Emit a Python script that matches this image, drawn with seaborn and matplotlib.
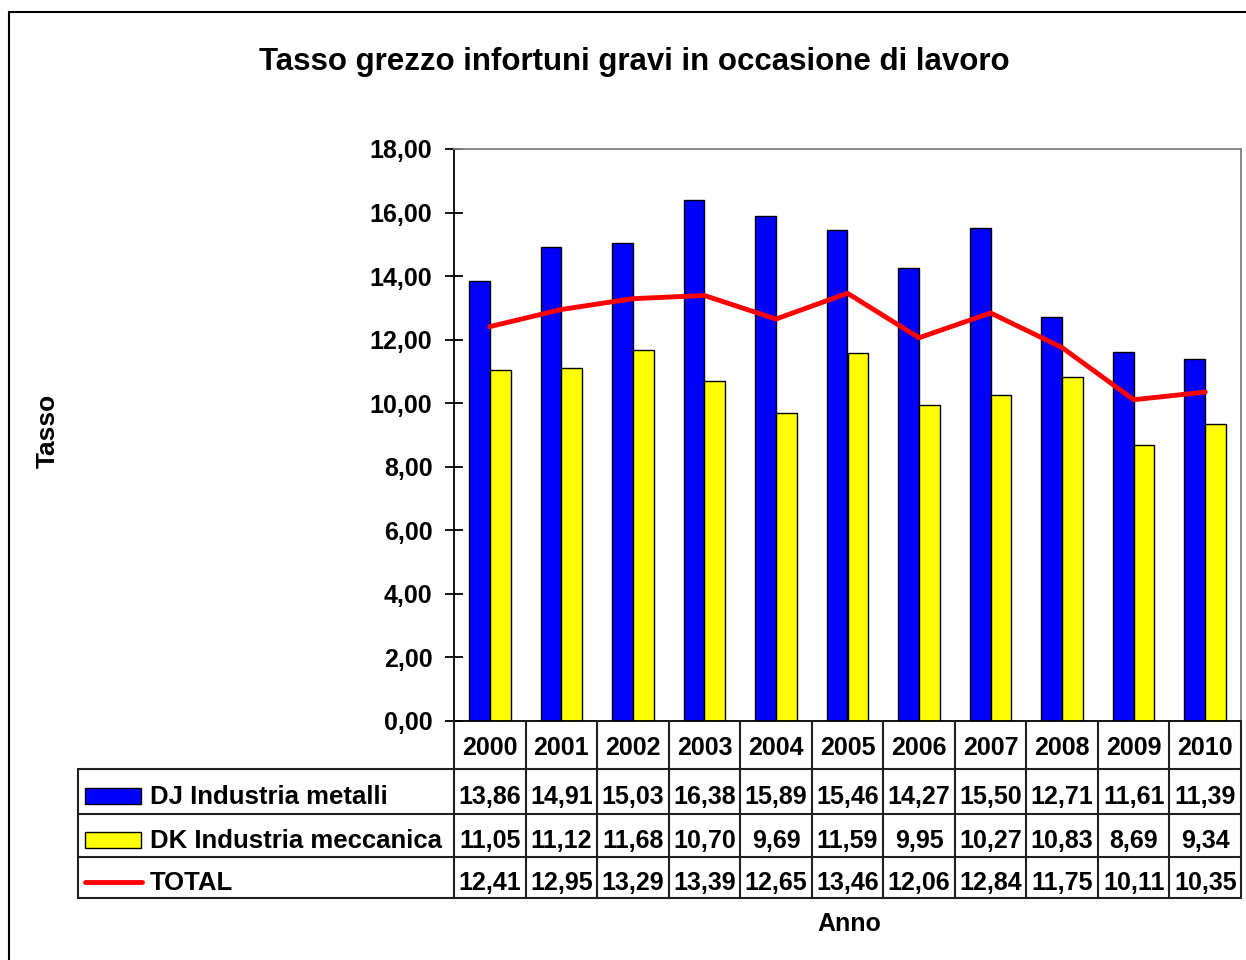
import numpy as np
import pandas as pd
import matplotlib
matplotlib.use('Agg')
import matplotlib.pyplot as plt
import seaborn as sns
from matplotlib.patches import Rectangle
from matplotlib.lines import Line2D

# dati
anni = ['2000', '2001', '2002', '2003', '2004', '2005', '2006', '2007', '2008', '2009', '2010']
metalli = [13.86, 14.91, 15.03, 16.38, 15.89, 15.46, 14.27, 15.50, 12.71, 11.61, 11.39]
meccanica = [11.05, 11.12, 11.68, 10.70, 9.69, 11.59, 9.95, 10.27, 10.83, 8.69, 9.34]
totale = [12.41, 12.95, 13.29, 13.39, 12.65, 13.46, 12.06, 12.84, 11.75, 10.11, 10.35]
serie = ['DJ Industria metalli', 'DK Industria meccanica', 'TOTAL']
colori = ['#0000FF', '#FFFF00', '#FF0000']
yticks = [0, 2, 4, 6, 8, 10, 12, 14, 16, 18]

sns.set_style('white')
plt.rcParams['font.family'] = ['Liberation Sans', 'DejaVu Sans']
plt.rcParams['font.weight'] = 'bold'
plt.rcParams['text.color'] = 'black'
plt.rcParams['ytick.color'] = 'black'
plt.rcParams['ytick.labelcolor'] = 'black'


def virgola(v):
    return f'{v:.2f}'.replace('.', ',')


W, H = 1246, 960
fig = plt.figure(figsize=(W / 100, H / 100), dpi=100)
ax = fig.add_axes([454 / W, 1 - 721 / H, (1241 - 454) / W, (721 - 149) / H])

df = pd.DataFrame({
    'anno': anni * 2,
    'valore': metalli + meccanica,
    'serie': [serie[0]] * len(anni) + [serie[1]] * len(anni),
})
sns.barplot(data=df, x='anno', y='valore', hue='serie', order=anni,
            palette=colori[:2], saturation=1, edgecolor='black', linewidth=1.0,
            width=0.58, gap=0, errorbar=None, legend=False, ax=ax)
sns.lineplot(x=np.arange(len(anni)), y=totale, color=colori[2],
             linewidth=3.5, ax=ax)

ax.set_xlim(-0.5, len(anni) - 0.5)
ax.set_ylim(0, 18)
ax.set_yticks(yticks)
ax.set_yticklabels([virgola(v) for v in yticks])
ax.set_xticks([])
ax.set_xlabel('')
ax.set_ylabel('')
ax.tick_params(axis='y', direction='inout', length=13, width=1.3,
               labelsize=18, pad=9, left=True, colors='black')
for s in ['top', 'right']:
    ax.spines[s].set_color('#808080')
    ax.spines[s].set_linewidth(1.3)
for s in ['left', 'bottom']:
    ax.spines[s].set_color('black')
    ax.spines[s].set_linewidth(1.3)

# titolo ed etichette
fig.text(634 / W, 1 - 62 / H, 'Tasso grezzo infortuni gravi in occasione di lavoro',
         ha='center', va='center', fontsize=22.5, weight='bold')
fig.text(48 / W, 1 - 431 / H, 'Tasso', rotation=90, ha='center', va='center',
         fontsize=19, weight='bold')
fig.text(849 / W, 1 - 924 / H, 'Anno', ha='center', va='center',
         fontsize=18, weight='bold')

# tabella dati sotto il grafico
inv = fig.transFigure.inverted()


def fx(xd):
    return inv.transform(ax.transData.transform((xd, 0)))[0]


def fy(py):
    return 1 - py / H


righe = [721, 769, 814, 857, 898]
x_lab = 78 / W
bordi = [fx(k - 0.5) for k in range(len(anni) + 1)]
lc = '#202020'
lw = 1.5

for b in bordi:
    fig.add_artist(Line2D([b, b], [fy(righe[0]), fy(righe[-1])], color=lc, lw=lw))
fig.add_artist(Line2D([x_lab, x_lab], [fy(righe[1]), fy(righe[-1])], color=lc, lw=lw))
for r in righe[1:]:
    fig.add_artist(Line2D([x_lab, bordi[-1]], [fy(r), fy(r)], color=lc, lw=lw))

yc_head = (righe[0] + righe[1]) / 2 + 3
for i, a in enumerate(anni):
    fig.text(fx(i), fy(yc_head), a, ha='center', va='center', fontsize=18, weight='bold')

valori = [metalli, meccanica, totale]
for j, vals in enumerate(valori):
    yc = (righe[j + 1] + righe[j + 2]) / 2 + 6
    for i, v in enumerate(vals):
        fig.text(fx(i), fy(yc), virgola(v), ha='center', va='center',
                 fontsize=18, weight='bold')
    fig.text(150 / W, fy(yc), serie[j], ha='left', va='center',
             fontsize=18.5, weight='bold')
    if j < 2:
        fig.add_artist(Rectangle((85 / W, fy(yc + 6)), 56 / W, 16 / H,
                                 facecolor=colori[j], edgecolor='black', lw=1.0,
                                 transform=fig.transFigure))
    else:
        fig.add_artist(Line2D([85 / W, 142 / W], [fy(yc - 2), fy(yc - 2)],
                              color=colori[j], lw=3.5))

# cornice esterna
fig.add_artist(Rectangle((9 / W, -0.1), 1.2, 1 - 12 / H + 0.1, fill=False,
                         edgecolor='black', lw=1.5, transform=fig.transFigure))

fig.savefig('out.png', dpi=100)
